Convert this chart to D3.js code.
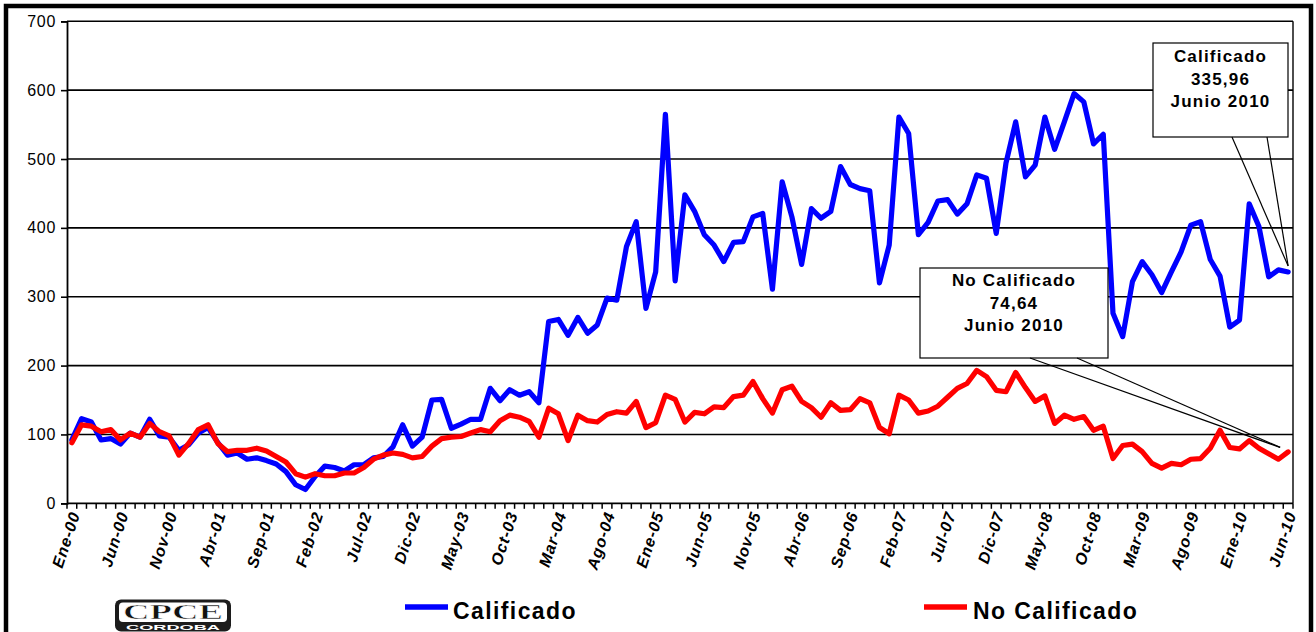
<!DOCTYPE html>
<html>
<head>
<meta charset="utf-8">
<script src="https://cdn.jsdelivr.net/npm/d3@7"></script>
<style>
  body { margin: 0; background: #fff; }
  svg { display: block; }
  text { font-family: "Liberation Sans", Arial, Helvetica, sans-serif; }
</style>
</head>
<body>
<svg id="chart" width="1316" height="632"></svg>
<script>
// ---------------- DATA ----------------
const monthNames = ["Ene","Feb","Mar","Abr","May","Jun","Jul","Ago","Sep","Oct","Nov","Dic"];
const yearLabels = ["00","01","02","03","04","05","06","07","08","09","10"];
const tickEvery = 5;

const calificado = [
  92,123,118,92,94,86,102,96,122,98,96,77,
  85,102,110,88,70,73,64,66,62,57,46,27,
  20,39,54,52,47,56,56,66,68,82,114,83,
  96,150,151,109,115,122,122,167,149,165,157,162,
  146,264,267,244,270,247,259,298,295,373,409,283,
  336,565,323,448,424,390,375,351,379,380,416,421,
  311,467,416,347,428,414,424,489,463,457,454,320,
  375,561,537,390,408,439,441,420,435,477,472,392,
  494,554,474,491,561,514,554,595,583,522,536,276,
  242,322,351,332,306,336,365,404,409,354,330,256,
  266,435,402,329,339,335.96
];
const noCalificado = [
  88,114,112,104,107,92,102,96,116,104,98,70,
  87,107,114,87,75,77,77,80,76,68,60,43,
  38,43,40,40,44,44,52,64,70,73,71,66,
  68,83,94,96,97,102,107,104,120,128,125,119,
  96,138,130,91,128,120,118,129,133,131,148,110,
  117,157,151,118,132,130,140,139,155,157,177,152,
  131,165,170,148,139,125,146,135,136,152,146,110,
  101,157,150,131,134,141,154,167,174,193,184,164,
  162,190,168,148,156,116,128,122,126,106,112,65,
  84,86,75,58,51,58,56,64,65,80,106,81,
  79,91,80,72,64,74.64
];
const yTicks = [0,100,200,300,400,500,600,700];
const seriesNames = ["Calificado","No Calificado"];
const seriesColors = ["#0000FF","#FF0000"];
const calloutLines = [
  ["Calificado","335,96","Junio 2010"],
  ["No Calificado","74,64","Junio 2010"]
];

// categories built from month / year names
const categories = [];
yearLabels.forEach(y => monthNames.forEach(m => categories.push(m + "-" + y)));
categories.length = calificado.length;

// ---------------- LAYOUT ----------------
const svg = d3.select("#chart");
const plot = { left: 67, right: 1293, top: 21.3, bottom: 503.3 };

const x = d3.scaleBand().domain(d3.range(categories.length)).range([plot.left, plot.right]).padding(0);
const bw = x.bandwidth();
const cx = i => x(i) + bw / 2;
const y = d3.scaleLinear().domain([0, 700]).range([plot.bottom, plot.top]);

// outer frame
svg.append("rect")
  .attr("x", 6).attr("y", 6).attr("width", 1305).attr("height", 700)
  .attr("fill", "#fff").attr("stroke", "#000").attr("stroke-width", 4.5);

// gridlines
svg.append("g").selectAll("line").data(yTicks.filter(d => d > 0)).join("line")
  .attr("x1", plot.left).attr("x2", plot.right)
  .attr("y1", d => y(d)).attr("y2", d => y(d))
  .attr("stroke", "#000").attr("stroke-width", 1.6);

// right border of plot
svg.append("line")
  .attr("x1", plot.right).attr("x2", plot.right)
  .attr("y1", plot.top).attr("y2", plot.bottom)
  .attr("stroke", "#000").attr("stroke-width", 1.4);

// Y axis
const yAxis = d3.axisLeft(y).tickValues(yTicks).tickSize(6).tickPadding(5).tickFormat(d3.format("d"));
const gy = svg.append("g").attr("transform", `translate(${plot.left},0)`).call(yAxis);
gy.select(".domain").attr("stroke", "#000").attr("stroke-width", 1.8);
gy.selectAll(".tick line").attr("stroke", "#000").attr("stroke-width", 1.6);
gy.selectAll(".tick text")
  .attr("font-size", 16).attr("fill", "#000")
  .style("font-family", '"Liberation Sans", Arial, sans-serif')
  .attr("letter-spacing", 0.7);

// X axis: baseline + ticks at category boundaries
svg.append("line")
  .attr("x1", plot.left).attr("x2", plot.right)
  .attr("y1", plot.bottom).attr("y2", plot.bottom)
  .attr("stroke", "#000").attr("stroke-width", 1.8);
const bounds = d3.range(categories.length + 1).map(k => plot.left + k * bw);
svg.append("g").selectAll("line").data(bounds).join("line")
  .attr("x1", d => d).attr("x2", d => d)
  .attr("y1", plot.bottom).attr("y2", plot.bottom + 5.5)
  .attr("stroke", "#000").attr("stroke-width", 1.5);

// X labels
const labelIdx = d3.range(0, categories.length, tickEvery);
svg.append("g").selectAll("text").data(labelIdx).join("text")
  .attr("transform", i => `translate(${cx(i) + 3},${plot.bottom + 9}) rotate(-72)`)
  .attr("text-anchor", "end")
  .attr("dy", "0.35em")
  .attr("font-size", 16)
  .attr("font-weight", "bold")
  .attr("font-style", "italic")
  .attr("letter-spacing", 0.9)
  .attr("fill", "#000")
  .text(i => categories[i]);

// series lines
const line = d3.line().x((d, i) => cx(i)).y(d => y(d));
[calificado, noCalificado].forEach((s, k) => {
  svg.append("path")
    .datum(s)
    .attr("d", line)
    .attr("fill", "none")
    .attr("stroke", seriesColors[k])
    .attr("stroke-width", 5.2)
    .attr("stroke-linejoin", "round")
    .attr("stroke-linecap", "round");
});

// callouts
const last = categories.length - 1;
const callouts = [
  { box: [1153, 43, 135, 94], base: [1232, 1267], tip: [cx(last), y(calificado[last]) - 6], lines: calloutLines[0], first: 62 },
  { box: [920, 268, 188, 90], base: [1030, 1077], tip: [cx(last) - 8, y(noCalificado[last]) - 4.5], lines: calloutLines[1], first: 286 }
];
callouts.forEach(c => {
  const g = svg.append("g");
  const [bx, by, bwid, bh] = c.box;
  g.append("rect").attr("x", bx).attr("y", by).attr("width", bwid).attr("height", bh)
    .attr("fill", "#fff").attr("stroke", "#000").attr("stroke-width", 1.2);
  c.base.forEach(px => {
    g.append("line").attr("x1", px).attr("y1", by + bh).attr("x2", c.tip[0]).attr("y2", c.tip[1])
      .attr("stroke", "#000").attr("stroke-width", 1.2);
  });
  c.lines.forEach((t, j) => {
    g.append("text")
      .attr("x", bx + bwid / 2).attr("y", c.first + j * 22.5)
      .attr("text-anchor", "middle")
      .attr("font-size", 17).attr("font-weight", "bold")
      .attr("letter-spacing", 1.2)
      .attr("fill", "#000")
      .text(t);
  });
});

// legend
const legendPos = [{ lx: 405, tx: 453 }, { lx: 924, tx: 973 }];
seriesNames.forEach((name, k) => {
  const p = legendPos[k];
  svg.append("line").attr("x1", p.lx).attr("x2", p.lx + 43).attr("y1", 607).attr("y2", 607)
    .attr("stroke", seriesColors[k]).attr("stroke-width", 5.5);
  svg.append("text").attr("x", p.tx).attr("y", 619)
    .attr("font-size", 23).attr("font-weight", "bold").attr("letter-spacing", 1.4)
    .attr("fill", "#000").text(name);
});

// logo CPCE
const logo = svg.append("g");
logo.append("rect").attr("x", 115).attr("y", 599.5).attr("width", 116).attr("height", 32)
  .attr("rx", 6).attr("fill", "#1c1c1c");
logo.append("rect").attr("x", 119).attr("y", 602.5).attr("width", 108).attr("height", 19.5)
  .attr("rx", 4).attr("fill", "#fff");
logo.append("text").attr("x", 123).attr("y", 619)
  .attr("textLength", 100).attr("lengthAdjust", "spacingAndGlyphs")
  .attr("font-size", 20).attr("font-weight", "bold")
  .style("font-family", '"Liberation Serif", "DejaVu Serif", serif')
  .attr("fill", "#111").attr("stroke", "#fff").attr("stroke-width", 0.5)
  .text("CPCE");
logo.append("text").attr("x", 126).attr("y", 629.8)
  .attr("textLength", 94).attr("lengthAdjust", "spacingAndGlyphs")
  .attr("font-size", 7).attr("font-weight", "bold")
  .attr("fill", "#fff").text("CORDOBA");
</script>
</body>
</html>
